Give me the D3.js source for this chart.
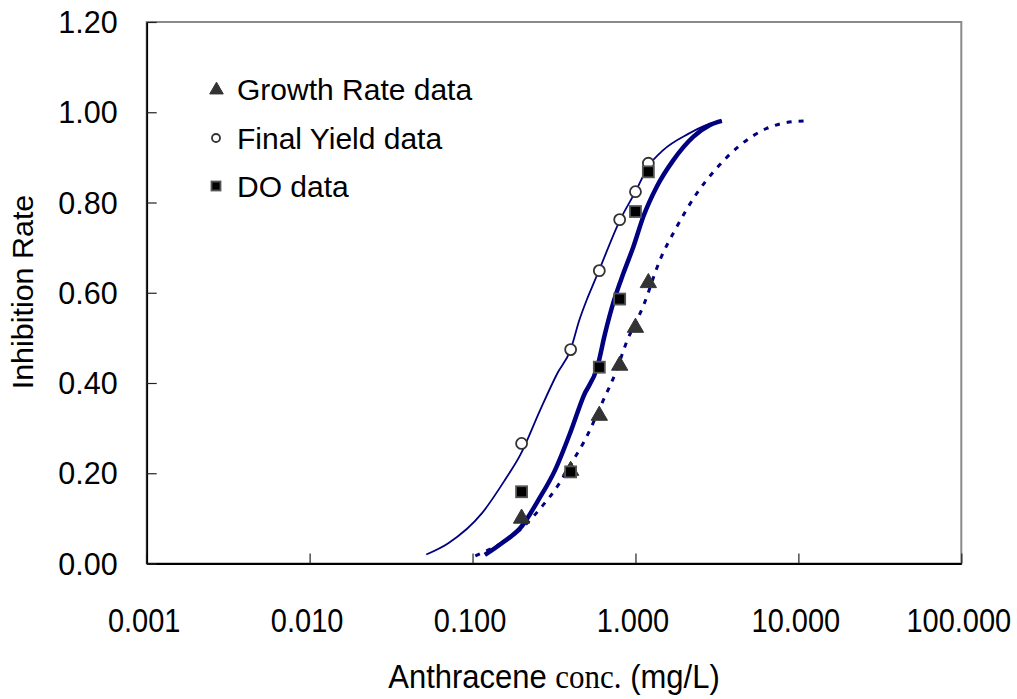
<!DOCTYPE html>
<html><head><meta charset="utf-8">
<script src="https://cdn.jsdelivr.net/npm/d3@7"></script>
<style>body{margin:0;background:#fff}svg{display:block}text{font-family:"Liberation Sans",Arial,sans-serif;fill:#000}</style>
</head><body><svg id="c" width="1017" height="699"></svg>
<script>
// ---- data ----
const conc = [0.2, 0.4, 0.6, 0.8, 1.0, 1.2];
const growthRate = [0.102, 0.208, 0.330, 0.441, 0.525, 0.624];
const finalYield = [0.266, 0.474, 0.649, 0.762, 0.824, 0.887];
const doData = [0.159, 0.203, 0.435, 0.586, 0.780, 0.868];

const fyFitX = [0.052,0.071,0.114,0.158,0.196,0.260,0.330,0.400,0.453,0.502,0.560,0.606,0.804,1.0,1.2,1.48,2.11,2.74,3.39];
const fyFitY = [0.020,0.045,0.111,0.185,0.240,0.340,0.420,0.474,0.540,0.584,0.625,0.655,0.761,0.824,0.880,0.916,0.952,0.972,0.981];
const doFitX = [0.119,0.151,0.200,0.254,0.321,0.397,0.479,0.584,0.651,0.740,0.843,0.971,1.118,1.351,1.709,2.27,2.87,3.39];
const doFitY = [0.019,0.045,0.082,0.141,0.207,0.289,0.370,0.436,0.510,0.584,0.643,0.702,0.769,0.835,0.894,0.946,0.972,0.981];
const grFitX = [0.104,0.210,0.266,0.336,0.397,0.484,0.635,0.750,0.884,1.118,1.416,1.793,2.377,3.08,4.39,6.39,7.9,11.0];
const grFitY = [0.017,0.085,0.126,0.174,0.218,0.270,0.362,0.420,0.4915,0.571,0.673,0.746,0.820,0.872,0.927,0.964,0.975,0.981];

const xTicks = [0.001, 0.01, 0.1, 1, 10, 100];
const yTicks = [0, 0.2, 0.4, 0.6, 0.8, 1.0, 1.2];
const legendLabels = ["Growth Rate data", "Final Yield data", "DO data"];

// ---- layout ----
const L = 146.7, R = 961.3, T = 22, B = 563.5;
const svg = d3.select("#c");
const x = d3.scaleLog().domain([0.001, 100]).range([L, R]);
const y = d3.scaleLinear().domain([0, 1.2]).range([B, T]);
const navy = "#000080";

// frame (grey top/right)
svg.append("rect").attr("x", L).attr("y", T).attr("width", R - L).attr("height", B - T)
  .attr("fill", "none").attr("stroke", "#8a8a8a").attr("stroke-width", 2);

// axes
const xAxis = svg.append("g").attr("transform", `translate(0,${B})`)
  .call(d3.axisBottom(x).tickValues(xTicks).tickFormat(d3.format(".3f")).tickSize(-10).tickSizeOuter(0));
xAxis.selectAll("text").attr("y", 0).attr("dy", 0)
  .attr("transform", "translate(-3,68) scale(1,1.17)")
  .style("font-size", "29px").attr("fill", "#000");
const yAxis = svg.append("g").attr("transform", `translate(${L},0)`)
  .call(d3.axisLeft(y).tickValues(yTicks).tickFormat(d3.format(".2f")).tickSize(-10).tickSizeOuter(0).tickPadding(29));
yAxis.selectAll("text").attr("dy", "0.35em").style("font-size", "30.5px").attr("fill", "#000");
[xAxis, yAxis].forEach(a => {
  a.select(".domain").attr("stroke", "#000").attr("stroke-width", 1.8);
  a.selectAll(".tick line").attr("stroke", "#222").attr("stroke-width", 1.2);
});

// titles
svg.append("text").attr("transform", "translate(33,292) rotate(-90) scale(1.05,1)")
  .attr("text-anchor", "middle").style("font-size", "29px").text("Inhibition Rate");
const xt = svg.append("text").attr("transform", "translate(554,688) scale(1,1.1)")
  .attr("text-anchor", "middle").style("font-size", "31px");
xt.append("tspan").text("Anthracene ");
xt.append("tspan").style("font-family", "'Liberation Serif','Times New Roman',serif").text("conc.");
xt.append("tspan").text(" (mg/L)");

// fitted curves
const line = d3.line().x(d => x(d[0])).y(d => y(d[1])).curve(d3.curveMonotoneX);
const zip = (a, b) => a.map((v, i) => [v, b[i]]);
svg.append("path").datum(zip(grFitX, grFitY)).attr("d", line).attr("fill", "none")
  .attr("stroke", navy).attr("stroke-width", 3).attr("stroke-dasharray", "5,7");
svg.append("path").datum(zip(fyFitX, fyFitY)).attr("d", line).attr("fill", "none")
  .attr("stroke", navy).attr("stroke-width", 1.8);
svg.append("path").datum(zip(doFitX, doFitY)).attr("d", line).attr("fill", "none")
  .attr("stroke", navy).attr("stroke-width", 4.5);

// markers
const tri = d3.symbol().type(d3.symbolTriangle);
function drawTri(g, cx, cy, s) {
  g.append("path").attr("d", tri.size(s)()).attr("transform", `translate(${cx},${cy + 1})`)
    .attr("fill", "#333").attr("stroke", "#333").attr("stroke-width", 1);
}
function drawCirc(g, cx, cy, r) {
  g.append("circle").attr("cx", cx).attr("cy", cy).attr("r", r)
    .attr("fill", "#fff").attr("stroke", "#333").attr("stroke-width", 1.8);
}
function drawSq(g, cx, cy, s) {
  g.append("rect").attr("x", cx - s / 2).attr("y", cy - s / 2).attr("width", s).attr("height", s)
    .attr("fill", "#000").attr("stroke", "#555").attr("stroke-width", 1.8);
}
const mk = svg.append("g");
conc.forEach((c, i) => drawTri(mk, x(c), y(growthRate[i]), 115));
conc.forEach((c, i) => drawCirc(mk, x(c), y(finalYield[i]), 5.5));
conc.forEach((c, i) => drawSq(mk, x(c), y(doData[i]), 11));

// legend
const lg = svg.append("g");
const ly = [89, 138, 186];
drawTri(lg, 216.5, ly[0], 80);
drawCirc(lg, 216, ly[1], 4);
drawSq(lg, 216, ly[2], 9);
legendLabels.forEach((t, i) => {
  lg.append("text").attr("x", 237).attr("y", ly[i] + 10.5).style("font-size", "30px").text(t);
});
</script></body></html>
